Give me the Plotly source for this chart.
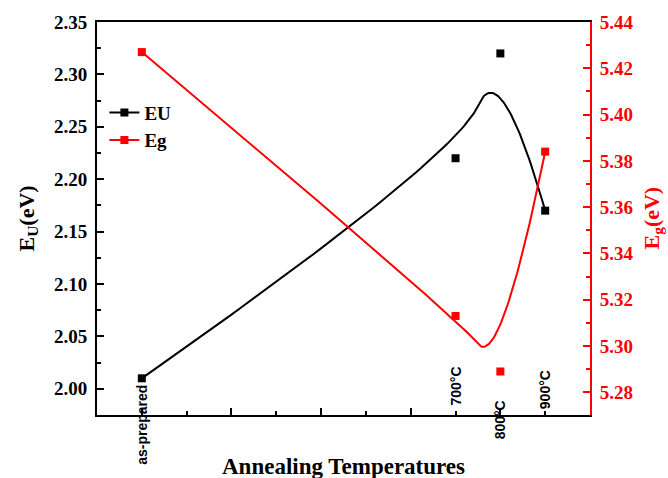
import numpy as np
import plotly.graph_objects as go

# ---- data ----
temps = [0, 700, 800, 900]
cat_labels = ["as-prepared", "700°C", "800°C", "900°C"]
eu = [2.01, 2.22, 2.32, 2.17]
eg = [5.427, 5.313, 5.289, 5.384]


def bspline2(xs, ys, n=60):
    """Clamped uniform quadratic B-spline using the data points as control points."""
    P = np.column_stack([xs, ys]).astype(float)
    m = len(P)
    t = np.linspace(0, 1, n)[:, None]
    out = []
    for i in range(m - 2):
        a = P[0] if i == 0 else (P[i] + P[i + 1]) / 2
        b = P[i + 1]
        c = P[m - 1] if i == m - 3 else (P[i + 1] + P[i + 2]) / 2
        seg = (1 - t) ** 2 * a + 2 * t * (1 - t) * b + t ** 2 * c
        out.append(seg if i == 0 else seg[1:])
    out = np.vstack(out)
    return out[:, 0], out[:, 1]


SERIF = "Liberation Serif"
SANS = "Liberation Sans"
BLACK = "#000000"
RED = "#ff0000"

fig = go.Figure()

ux, uy = bspline2(temps, eu)
gx, gy = bspline2(temps, eg)

fig.add_trace(go.Scatter(x=ux, y=uy, mode="lines", line=dict(color=BLACK, width=2),
                         showlegend=False, hoverinfo="skip"))
fig.add_trace(go.Scatter(x=gx, y=gy, mode="lines", line=dict(color=RED, width=2),
                         showlegend=False, hoverinfo="skip", yaxis="y2"))
fig.add_trace(go.Scatter(x=temps, y=eu, mode="markers",
                         marker=dict(symbol="square", size=8, color=BLACK),
                         showlegend=False))
fig.add_trace(go.Scatter(x=temps, y=eg, mode="markers",
                         marker=dict(symbol="square", size=8, color=RED),
                         showlegend=False, yaxis="y2"))
# legend entries
fig.add_trace(go.Scatter(x=[None], y=[None], mode="lines+markers", name="EU",
                         line=dict(color=BLACK, width=2),
                         marker=dict(symbol="square", size=8, color=BLACK)))
fig.add_trace(go.Scatter(x=[None], y=[None], mode="lines+markers", name="Eg",
                         line=dict(color=RED, width=2),
                         marker=dict(symbol="square", size=8, color=RED), yaxis="y2"))

# category labels along the x axis
label_shift = [-10, 29, -5, 25]
for xv, lab, sh in zip(temps, cat_labels, label_shift):
    fig.add_annotation(x=xv, y=0, xref="x", yref="paper", text=lab, textangle=-90,
                       showarrow=False, xanchor="center", yanchor="middle", yshift=sh,
                       font=dict(family=SANS, size=14, color=BLACK, weight="bold"))

# axis titles
fig.add_annotation(x=0.5, y=0, xref="paper", yref="paper", text="Annealing Temperatures",
                   showarrow=False, xanchor="center", yanchor="middle", yshift=-51,
                   font=dict(family=SERIF, size=23, color=BLACK, weight="bold"))
fig.add_annotation(x=0, y=0.5, xref="paper", yref="paper", text="E<sub>U</sub>(eV)",
                   textangle=-90, showarrow=False, xanchor="center", yanchor="middle",
                   xshift=-70, font=dict(family=SERIF, size=22, color=BLACK, weight="bold"))
fig.add_annotation(x=1, y=0.5, xref="paper", yref="paper", text="E<sub>g</sub>(eV)",
                   textangle=-90, showarrow=False, xanchor="center", yanchor="middle",
                   xshift=62, font=dict(family=SERIF, size=22, color=RED, weight="bold"))

tickfont = dict(family=SERIF, size=19, weight="bold")

fig.update_layout(
    width=668, height=478,
    margin=dict(l=97, r=78, t=18, b=63),
    paper_bgcolor="white", plot_bgcolor="white",
    showlegend=True,
    legend=dict(x=0.015, y=0.818, xanchor="left", yanchor="top",
                font=dict(family=SERIF, size=19, color=BLACK, weight="bold"),
                bgcolor="rgba(0,0,0,0)", tracegroupgap=0, itemwidth=30),
    xaxis=dict(
        range=[-100, 1000], showgrid=False, zeroline=False,
        showline=True, linecolor=BLACK, linewidth=2, mirror=True,
        tickmode="array", tickvals=[0, 200, 400, 600, 800],
        ticks="inside", ticklen=7, tickwidth=2, tickcolor=BLACK,
        showticklabels=False,
        minor=dict(ticks="inside", ticklen=4, tickwidth=2, tickcolor=BLACK,
                   tickmode="array", tickvals=[100, 300, 500, 700, 900]),
    ),
    yaxis=dict(
        range=[1.975, 2.35], showgrid=False, zeroline=False,
        showline=True, linecolor=BLACK, linewidth=2,
        dtick=0.05, tick0=2.0, tickformat=".2f",
        ticks="inside", ticklen=7, tickwidth=2, tickcolor=BLACK,
        minor=dict(ticks="inside", ticklen=4, tickwidth=2, tickcolor=BLACK, dtick=0.025),
        tickfont=dict(color=BLACK, **tickfont), ticklabelstandoff=4,
    ),
    yaxis2=dict(
        range=[5.2702, 5.44], overlaying="y", side="right", showgrid=False, zeroline=False,
        showline=True, linecolor=RED, linewidth=2,
        dtick=0.02, tick0=5.28, tickformat=".2f",
        ticks="inside", ticklen=7, tickwidth=2, tickcolor=RED,
        minor=dict(ticks="inside", ticklen=4, tickwidth=2, tickcolor=RED, dtick=0.01),
        tickfont=dict(color=RED, **tickfont), ticklabelstandoff=4,
    ),
)

fig.write_html("out.html", config={"displayModeBar": False},
               post_script="document.body.style.margin='0';document.body.style.padding='0';")
